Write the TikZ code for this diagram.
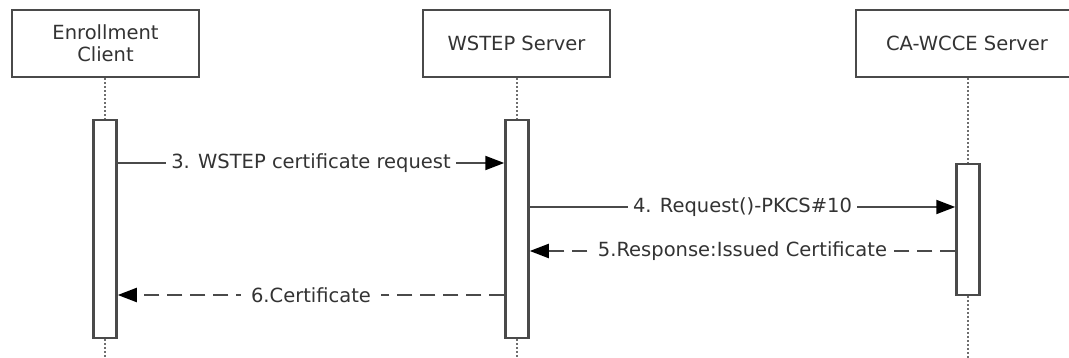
\documentclass[tikz,border=0pt]{standalone}
\usepackage{fontspec}
\setmainfont{DejaVu Sans}
\usetikzlibrary{arrows.meta}
\definecolor{linec}{HTML}{4A4A4A}
\definecolor{textc}{HTML}{333333}
\definecolor{dotc}{HTML}{6E6E6E}
\tikzset{
  actor/.style={draw=linec, line width=2.5pt, fill=white, minimum height=67pt, inner sep=0pt,
    text=textc, font=\fontsize{19.5}{22}\selectfont, align=center},
  bar/.style={draw=linec, line width=2.5pt, fill=white, minimum width=23pt, inner sep=0pt},
  life/.style={draw=dotc, line width=2.2pt, dash pattern=on 2pt off 2pt},
  msg/.style={draw=linec, line width=2pt, -{Triangle[length=19pt,width=14pt,color=black,fill=black]}},
  reply/.style={msg, dash pattern=on 15pt off 8pt},
  lbl/.style={fill=white, text=textc, font=\fontsize{19.5}{22}\selectfont, inner xsep=5pt, inner ysep=1pt}
}
\begin{document}
\begin{tikzpicture}[x=1pt,y=-1pt]
\useasboundingbox (0,0) rectangle (1069,358);
\clip (0,0) rectangle (1069,358);
% actors
\node[actor, minimum width=187pt] (c) at (105.5,43.5) {Enrollment\\Client};
\node[actor, minimum width=187pt] (w) at (516.5,43.5) {WSTEP Server};
\node[actor, minimum width=222pt] (ca) at (967,43.5) {CA-WCCE Server};
% bottom ends of lifelines
\coordinate (cend) at (105,360);
\coordinate (wend) at (517,360);
\coordinate (caend) at (968,360);
% activation bars
\node[bar, minimum height=218pt] (bc) at (105,229) {};
\node[bar, minimum height=218pt] (bw) at (517,229) {};
\node[bar, minimum height=131pt] (bca) at (968,229.5) {};
% lifelines
\draw[life] (c.south -| bc.north) -- (bc.north);
\draw[life] (bc.south) -- (cend);
\draw[life] (w.south -| bw.north) -- (bw.north);
\draw[life] (bw.south) -- (wend);
\draw[life] (ca.south -| bca.north) -- (bca.north);
\draw[life] (bca.south) -- (caend);
% messages
\draw[msg] (bc.east |- 0,163) -- (bw.west |- 0,163) node[midway, lbl] {3. WSTEP certificate request};
\draw[msg] (bw.east |- 0,207) -- (bca.west |- 0,207) node[midway, lbl] {4. Request()-PKCS\#10};
\draw[reply] (bca.west |- 0,251) -- (bw.east |- 0,251) node[midway, lbl] {5.Response:Issued Certificate};
\draw[reply] (bw.west |- 0,295) -- (bc.east |- 0,295) node[midway, lbl, inner xsep=10pt] {6.Certificate};
\end{tikzpicture}
\end{document}
